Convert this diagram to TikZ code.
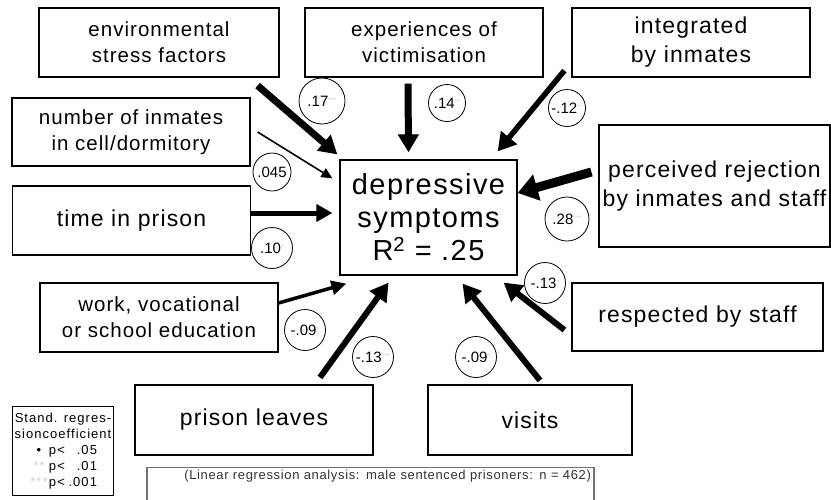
\documentclass[tikz,border=0pt]{standalone}
\usepackage{fontspec}
\setmainfont{Liberation Sans}
\newfontfamily\boxfont[LetterSpace=5]{Liberation Sans}
\newfontfamily\legfont[LetterSpace=8]{Liberation Sans}
\usetikzlibrary{arrows.meta,calc,positioning}
\colorlet{faint}{black!18}
\newcommand{\sig}[1]{\textcolor{faint}{\raisebox{4pt}{\fontsize{7}{7}\selectfont #1}}}

\begin{document}
\begin{tikzpicture}[
  x=1pt, y=-1pt,
  var/.style={rectangle, draw, line width=1.2pt, minimum width=238pt, minimum height=69pt, inner sep=2pt, align=center, font=\boxfont\fontsize{20.5}{26}\selectfont},
  big/.style={font=\boxfont\fontsize{23}{29}\selectfont},
  coef/.style={circle, draw, line width=0.8pt, minimum size=41pt, inner sep=0pt, font=\fontsize{15}{15}\selectfont},
  effect/.style={line width=#1, -{Triangle[length=18pt,width=20pt]}},
  thinhead/.style={-{Triangle[length=11pt,width=10pt]}}
]
\clip (0,0) rectangle (831,499);

% Top row
\node[var, minimum width=240pt] (env) at (159,42.5) {environmental\\stress factors};
\node[var] (vic) at (424,42.5) {experiences of\\victimisation};
\node[var, big] (integ) at (691,42.5) {integrated\\by inmates};

% Left column
\node[var, minimum height=68pt] (num) at (131,132) {number of inmates\\in cell/dormitory};
\node[var, big] (time) at (131.5,220.5) {time in prison};
\node[var] (work) at (159,317.5) {work, vocational\\or school education};

% Outcome
\node[var, minimum width=177pt, minimum height=115pt, font=\boxfont\fontsize{29}{33}\selectfont] (dep) at (428.5,217.5) {depressive\\symptoms\\R\textsuperscript{2} = .25};

% Right column
\node[var, big, minimum width=231pt, minimum height=122pt] (perc) at (714.5,186) {perceived rejection\\by inmates and staff};
\node[var, big, minimum width=251pt, minimum height=68pt] (resp) at (697.5,317) {respected by staff};

% Bottom row
\node[var, big, minimum height=70pt] (leaves) at (254,420) {prison leaves};
\node[var, big, minimum width=204pt, minimum height=70pt] (visits) at (530,420) {visits};

% Note and legend
\node[draw=black!55, line width=1.2pt, anchor=north, text width=441pt, align=right, text height=10pt, text depth=30pt, inner xsep=3pt, inner ysep=2pt, text=black!80, font=\boxfont\fontsize{13}{15}\selectfont] (note) at (370.5,467) {(Linear regression analysis: male sentenced prisoners: n = 462)};
\node[draw, line width=1pt, anchor=north west, minimum width=101pt, minimum height=89pt, inner sep=1pt, align=center, font=\legfont\fontsize{13}{16}\selectfont] (legend) at (12,406) {Stand. regres-\\sioncoefficient\\
  \makebox[20pt]{\textbullet}\makebox[22pt][l]{p<}\makebox[26pt][r]{.05}\\
  \makebox[20pt]{\textcolor{faint}{**}}\makebox[22pt][l]{p<}\makebox[26pt][r]{.01}\\
  \makebox[20pt]{\textcolor{faint}{***}}\makebox[22pt][l]{p<}\makebox[26pt][r]{.001}};

% Coefficients
\node[coef, minimum size=46pt] (c17) at (322,101) {.17\sig{***}};
\node[coef, minimum size=37pt] (c14) at (447,103) {.14\sig{**}};
\node[coef, minimum size=37pt] (c12) at (567,108) {-.12\sig{**}};
\node[coef, minimum size=38pt] (c045) at (272,172) {.045};
\node[coef] (c10) at (272,248) {.10\sig{*}};
\node[coef, minimum size=44pt] (c28) at (567,219) {.28\sig{***}};
\node[coef] (c13r) at (545,283) {-.13\sig{*}};
\node[coef] (c09w) at (305,330) {-.09\sig{*}};
\node[coef] (c13l) at (373,357) {-.13\sig{***}};
\node[coef] (c09v) at (476,357) {-.09\sig{*}};

% Arrows
\draw[effect=7pt] ([shift={(-22,8)}]env.south east) -- ([shift={(-2,-5)}]dep.north west);
\draw[effect=7pt] ([shift={(-16,6)}]vic.south) -- ([shift={(-20,-7)}]dep.north);
\draw[effect=5.5pt] ([shift={(-7,-7)}]integ.south west) -- ([shift={(-20,-8)}]dep.north east);
\draw[line width=1.6pt, thinhead] ([shift={(7,0)}]num.east) -- ([shift={(-7,19)}]dep.north west);
\draw[effect=5pt, -{Triangle[length=16pt,width=17pt]}] ([shift={(0,-7.5)}]time.east) -- ([shift={(-7,-4.5)}]dep.west);
\draw[effect=9pt, -{Triangle[length=20pt,width=26pt]}] ([shift={(-7,-14)}]perc.west) -- ([shift={(0,-24.5)}]dep.east);
\draw[effect=3.5pt, -{Triangle[length=15pt,width=14pt]}] ([shift={(0,-14.5)}]work.east) -- ([shift={(7,8)}]dep.south west);
\draw[effect=6pt] ([shift={(66,-7)}]leaves.north) -- ([shift={(-40,7)}]dep.south);
\draw[effect=6pt] ([shift={(10,-4)}]visits.north) -- ([shift={(34,8)}]dep.south);
\draw[effect=6pt] ([shift={(-7,13)}]resp.west) -- ([shift={(-14,7)}]dep.south east);

\end{tikzpicture}
\end{document}
